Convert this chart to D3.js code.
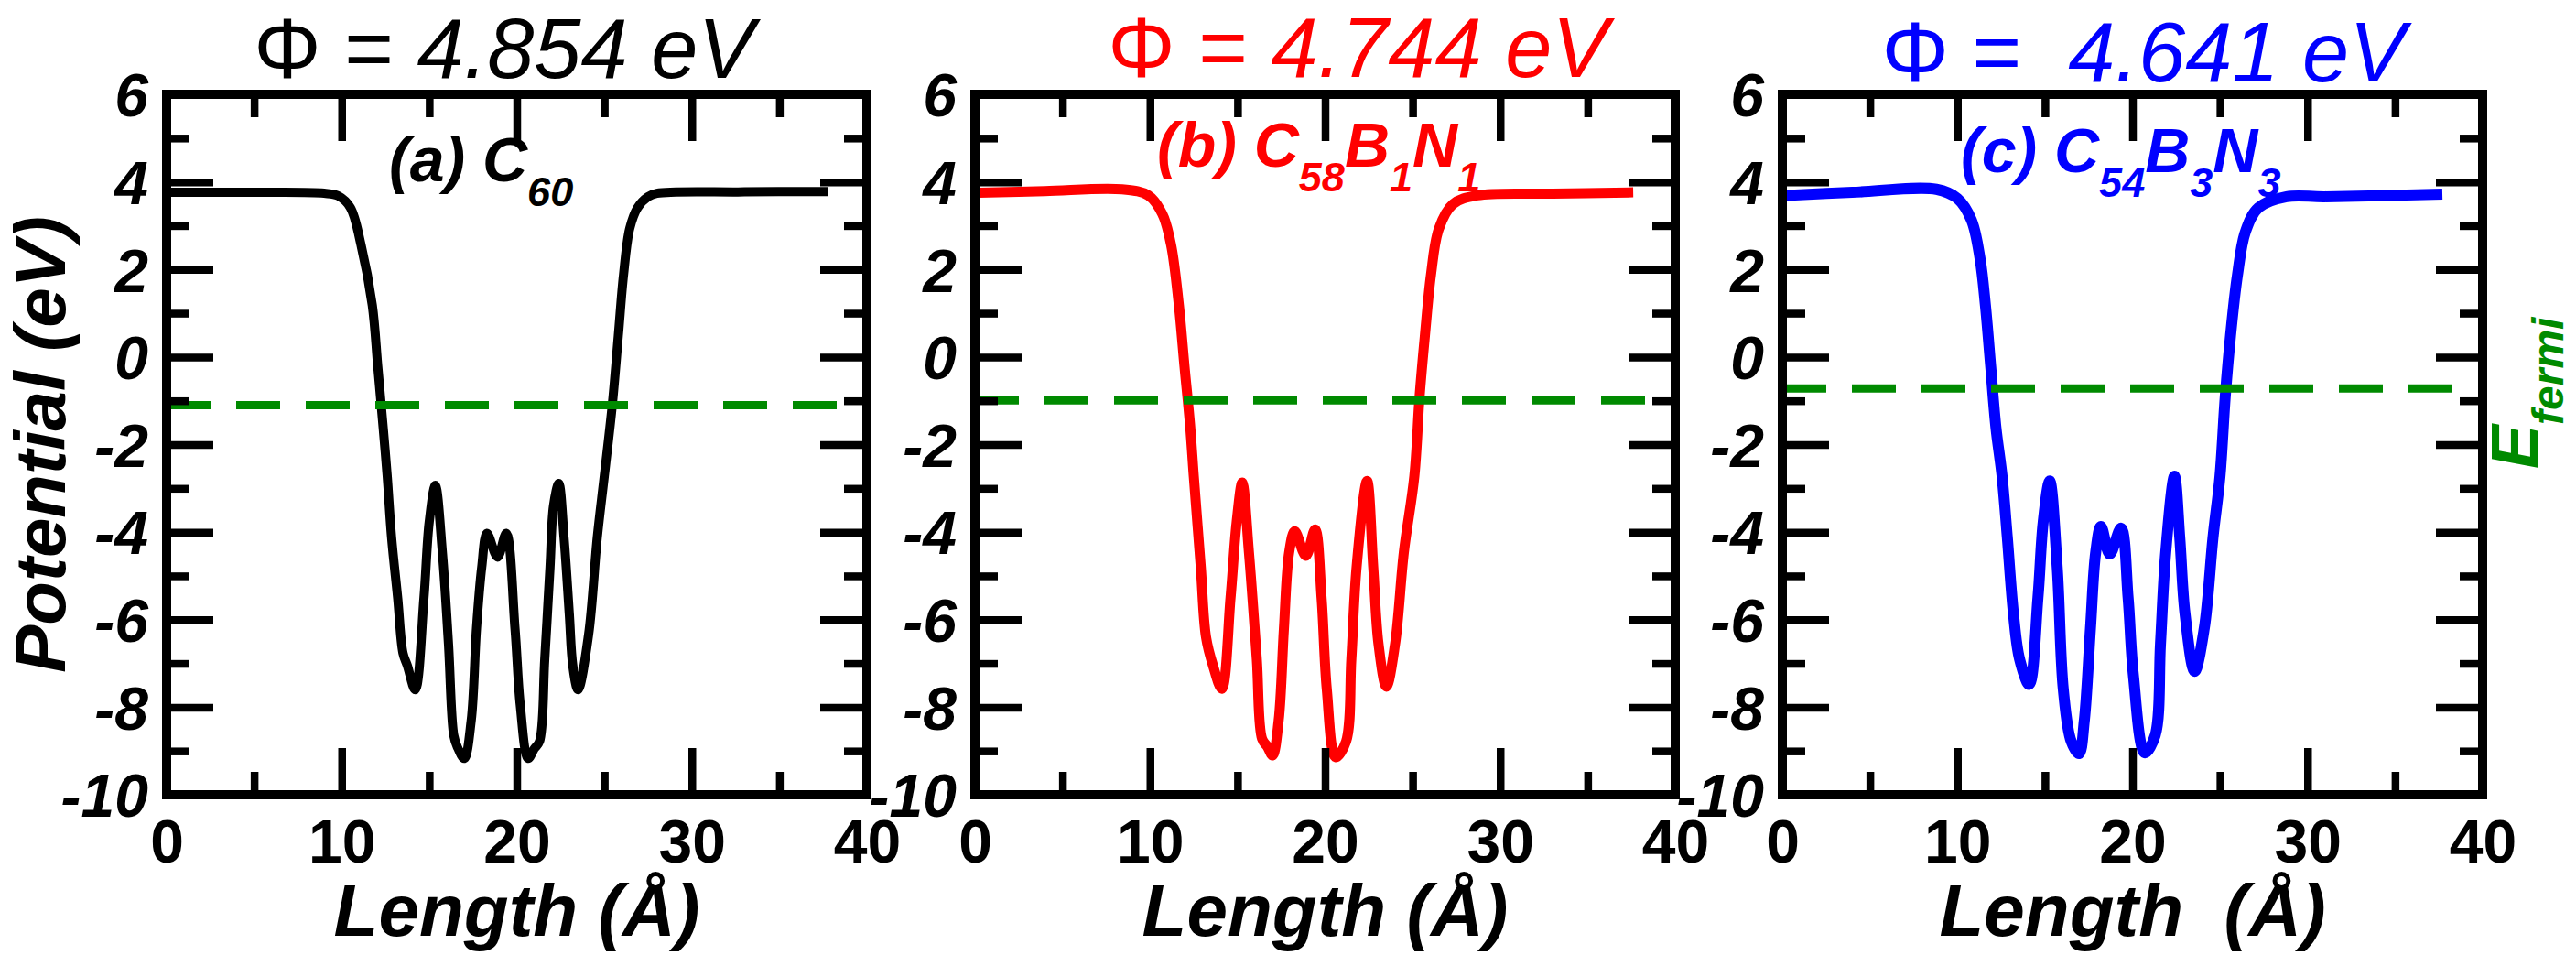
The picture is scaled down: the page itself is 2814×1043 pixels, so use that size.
<!DOCTYPE html>
<html>
<head>
<meta charset="utf-8">
<script src="https://cdn.jsdelivr.net/npm/d3@7"></script>
<style>
  body { margin: 0; background: #ffffff; }
</style>
</head>
<body>
<script>

var c60Length = [0, 5, 9.0, 9.8, 10.5, 11.1, 11.75, 12.06, 12.37, 12.6, 12.85, 13.2, 13.5, 13.75, 14.2, 14.7, 15.0, 15.35, 15.75, 16.1, 16.4, 16.6, 17.0, 17.4, 17.7, 18.0, 18.3, 18.9, 19.4, 19.9, 20.2, 20.65, 21.0, 21.3, 21.6, 21.9, 22.1, 22.4, 22.7, 23.0, 23.2, 23.5, 24.1, 24.6, 25.0, 25.45, 25.8, 26.1, 26.45, 26.9, 27.5, 28.0, 33.0, 37.8];
var c60Potential = [3.76, 3.76, 3.74, 3.68, 3.41, 2.57, 1.18, -0.21, -1.61, -2.72, -4.12, -5.51, -6.76, -7.05, -7.6, -5.5, -3.77, -2.93, -4.46, -6.55, -8.64, -8.9, -9.17, -8.3, -6.2, -4.8, -4.03, -4.57, -4.03, -6.2, -7.95, -9.17, -8.95, -8.78, -6.9, -4.8, -3.4, -2.89, -4.12, -5.86, -7.05, -7.6, -6.35, -4.12, -2.72, -1.12, 0.48, 1.88, 2.93, 3.41, 3.66, 3.74, 3.77, 3.78];

var c58Length = [0.2, 4, 8.4, 9.9, 10.7, 11.2, 11.65, 11.97, 12.3, 12.5, 12.9, 13.2, 13.6, 14.1, 14.6, 14.95, 15.27, 15.65, 16.1, 16.4, 16.7, 17.0, 17.35, 17.65, 17.95, 18.27, 18.9, 19.43, 19.8, 20.1, 20.6, 21.2, 21.5, 21.8, 22.4, 22.75, 23.05, 23.5, 24.0, 24.5, 25.1, 25.4, 25.7, 26.05, 26.5, 27.3, 28.7, 33.0, 37.6];
var c58Potential = [3.75, 3.79, 3.83, 3.69, 3.27, 2.57, 1.18, -0.21, -1.61, -2.72, -4.8, -6.4, -7.05, -7.58, -5.5, -3.77, -2.87, -4.46, -6.9, -8.72, -8.9, -9.1, -8.3, -6.2, -4.46, -3.98, -4.54, -3.94, -5.5, -7.6, -9.14, -8.78, -6.9, -4.8, -2.83, -4.8, -6.55, -7.53, -6.55, -4.46, -2.72, -0.9, 0.48, 1.88, 2.93, 3.49, 3.69, 3.73, 3.76];

var c54Length = [0.2, 4, 8.8, 10.0, 10.8, 11.3, 11.6, 11.9, 12.2, 12.55, 12.85, 13.2, 13.55, 14.1, 14.6, 14.9, 15.27, 15.7, 16.05, 16.5, 16.95, 17.25, 17.6, 17.9, 18.2, 18.7, 19.35, 19.75, 20.05, 20.7, 21.3, 21.6, 21.9, 22.4, 22.7, 23.0, 23.55, 24.1, 24.6, 25.0, 25.3, 25.6, 26.0, 26.45, 27.2, 28.8, 31.0, 37.7];
var c54Potential = [3.69, 3.76, 3.83, 3.62, 3.13, 2.23, 1.18, -0.21, -1.61, -2.72, -4.12, -5.86, -6.9, -7.48, -5.5, -3.77, -2.83, -4.8, -7.6, -8.78, -9.06, -8.3, -6.2, -4.46, -3.87, -4.5, -3.91, -5.5, -7.26, -9.04, -8.64, -6.55, -4.46, -2.72, -4.12, -5.86, -7.18, -6.2, -4.12, -2.72, -0.9, 0.48, 1.88, 2.86, 3.41, 3.66, 3.66, 3.72];

// Work functions and Fermi levels of each panel :
var workFunctions = ["4.854", "4.744", "4.641"];
var fermiLevels = [-1.10, -0.99, -0.72];

// Axis ticks :
var xMajorTicks = [0, 10, 20, 30, 40];
var xMinorTicks = [5, 15, 25, 35];
var yMajorTicks = [6, 4, 2, 0, -2, -4, -6, -8, -10];
var yMinorTicks = [5, 3, 1, -1, -3, -5, -7, -9];

// Panel layout (pixels) :
var W = 2814, H = 1043;
var plotTop = 103, plotSize = 765;
var panelLefts = [182, 1065, 1947];
var font = "'Liberation Sans', Arimo, Arial, 'DejaVu Sans', sans-serif";

var panels = [
  { x: c60Length, y: c60Potential, color: "#000000", width: 10,
    title: ["Φ", " = ", workFunctions[0] + " eV"], titleShift: -14, titleBase: 85,
    label: [["(a) C", false], ["60", true]], labelX: 425, labelBase: 198,
    xlabel: "Length (Å)" },
  { x: c58Length, y: c58Potential, color: "#ff0000", width: 11,
    title: ["Φ", " = ", workFunctions[1] + " eV"], titleShift: 36, titleBase: 84,
    label: [["(b) C", false], ["58", true], ["B", false], ["1", true], ["N", false], ["1", true]], labelX: 1264, labelBase: 182,
    xlabel: "Length (Å)" },
  { x: c54Length, y: c54Potential, color: "#0000ff", width: 12,
    title: ["Φ", " =  ", workFunctions[2] + " eV"], titleShift: 12, titleBase: 89,
    label: [["(c) C", false], ["54", true], ["B", false], ["3", true], ["N", false], ["3", true]], labelX: 2142, labelBase: 188,
    xlabel: "Length  (Å)" }
];

var green = "#008a00";

var svg = d3.select("body").append("svg")
    .attr("width", W)
    .attr("height", H)
    .attr("font-family", font);

var xScale = d3.scaleLinear().domain([0, 40]).range([0, plotSize]);
var yScale = d3.scaleLinear().domain([-10, 6]).range([plotSize, 0]);

panels.forEach(function(p, i) {

  var g = svg.append("g")
      .attr("transform", "translate(" + panelLefts[i] + "," + plotTop + ")");

  // Potential curve :
  var pts = d3.zip(p.x, p.y);
  var line = d3.line()
      .x(function(d) { return xScale(d[0]); })
      .y(function(d) { return yScale(d[1]); })
      .curve(d3.curveCatmullRom.alpha(0.5));

  g.append("path")
      .datum(pts)
      .attr("d", line)
      .style("fill", "none")
      .style("stroke", p.color)
      .style("stroke-width", p.width)
      .style("stroke-linejoin", "round");

  // Fermi level :
  g.append("line")
      .attr("x1", xScale(0))
      .attr("x2", xScale(40))
      .attr("y1", yScale(fermiLevels[i]))
      .attr("y2", yScale(fermiLevels[i]))
      .style("stroke", green)
      .style("stroke-width", 9)
      .style("stroke-dasharray", "48,28");

  // Frame :
  g.append("rect")
      .attr("x", 0).attr("y", 0)
      .attr("width", plotSize).attr("height", plotSize)
      .style("fill", "none")
      .style("stroke", "#000")
      .style("stroke-width", 10);

  // Ticks, pointing inward on all four sides :
  function addAxis(axis, tx, ty, labels) {
    var a = g.append("g")
        .attr("transform", "translate(" + tx + "," + ty + ")")
        .call(axis)
        .attr("font-family", font);
    a.select(".domain").remove();
    a.selectAll(".tick line").style("stroke", "#000").style("stroke-width", 8.5);
    if (!labels) a.selectAll(".tick text").remove();
    return a;
  }

  var bottomMajor = addAxis(d3.axisBottom(xScale).tickValues(xMajorTicks).tickSize(-51).tickPadding(27).tickFormat(d3.format("d")), 0, plotSize, true);
  bottomMajor.selectAll(".tick text")
      .style("font-size", "66px")
      .style("font-weight", "bold")
      .style("fill", "#000");
  addAxis(d3.axisBottom(xScale).tickValues(xMinorTicks).tickSize(-25), 0, plotSize, false);
  addAxis(d3.axisTop(xScale).tickValues(xMajorTicks).tickSize(-51), 0, 0, false);
  addAxis(d3.axisTop(xScale).tickValues(xMinorTicks).tickSize(-25), 0, 0, false);

  var leftMajor = addAxis(d3.axisLeft(yScale).tickValues(yMajorTicks).tickSize(-51).tickPadding(20).tickFormat(function(d) { return d < 0 ? "-" + Math.abs(d) : String(d); }), 0, 0, true);
  leftMajor.selectAll(".tick text")
      .attr("dy", "0.36em")
      .style("font-size", "66px")
      .style("font-weight", "bold")
      .style("font-style", "italic")
      .style("fill", "#000");
  addAxis(d3.axisLeft(yScale).tickValues(yMinorTicks).tickSize(-25), 0, 0, false);
  addAxis(d3.axisRight(yScale).tickValues(yMajorTicks).tickSize(-51), plotSize, 0, false);
  addAxis(d3.axisRight(yScale).tickValues(yMinorTicks).tickSize(-25), plotSize, 0, false);

  // Work function title :
  var title = svg.append("text")
      .attr("x", panelLefts[i] + plotSize / 2 + p.titleShift)
      .attr("y", p.titleBase)
      .attr("text-anchor", "middle")
      .style("font-size", "92px")
      .style("white-space", "pre")
      .style("fill", p.color);
  title.append("tspan").text(p.title[0]);
  title.append("tspan").text(p.title[1]);
  title.append("tspan").style("font-style", "italic").text(p.title[2]);

  // Panel label with subscripts :
  var lab = svg.append("text")
      .attr("x", p.labelX)
      .attr("y", p.labelBase)
      .style("font-size", "68px")
      .style("font-weight", "bold")
      .style("font-style", "italic")
      .style("white-space", "pre")
      .style("fill", p.color);
  var lowered = false;
  p.label.forEach(function(part) {
    var t = lab.append("tspan").text(part[0]);
    if (part[1] && !lowered) { t.attr("dy", 27).style("font-size", "45px"); lowered = true; }
    else if (part[1]) { t.style("font-size", "45px"); }
    else if (!part[1] && lowered) { t.attr("dy", -27); lowered = false; }
  });

  // X axis title :
  svg.append("text")
      .attr("x", panelLefts[i] + plotSize / 2)
      .attr("y", 1022)
      .attr("text-anchor", "middle")
      .style("font-size", "80px")
      .style("font-weight", "bold")
      .style("font-style", "italic")
      .style("white-space", "pre")
      .style("fill", "#000")
      .text(p.xlabel);
});

// Y axis title :
svg.append("text")
    .attr("transform", "translate(71," + (plotTop + plotSize / 2) + ") rotate(-90)")
    .attr("text-anchor", "middle")
    .style("font-size", "78px")
    .style("font-weight", "bold")
    .style("font-style", "italic")
    .style("fill", "#000")
    .text("Potential (eV)");

// Fermi level tag at the right :
var ef = svg.append("text")
    .attr("transform", "translate(2772,512) rotate(-90)")
    .style("font-size", "72px")
    .style("font-weight", "bold")
    .style("font-style", "italic")
    .style("fill", green);
ef.append("tspan").text("E");
ef.append("tspan").attr("dy", 28).style("font-size", "48px").text("fermi");

</script>
</body>
</html>
